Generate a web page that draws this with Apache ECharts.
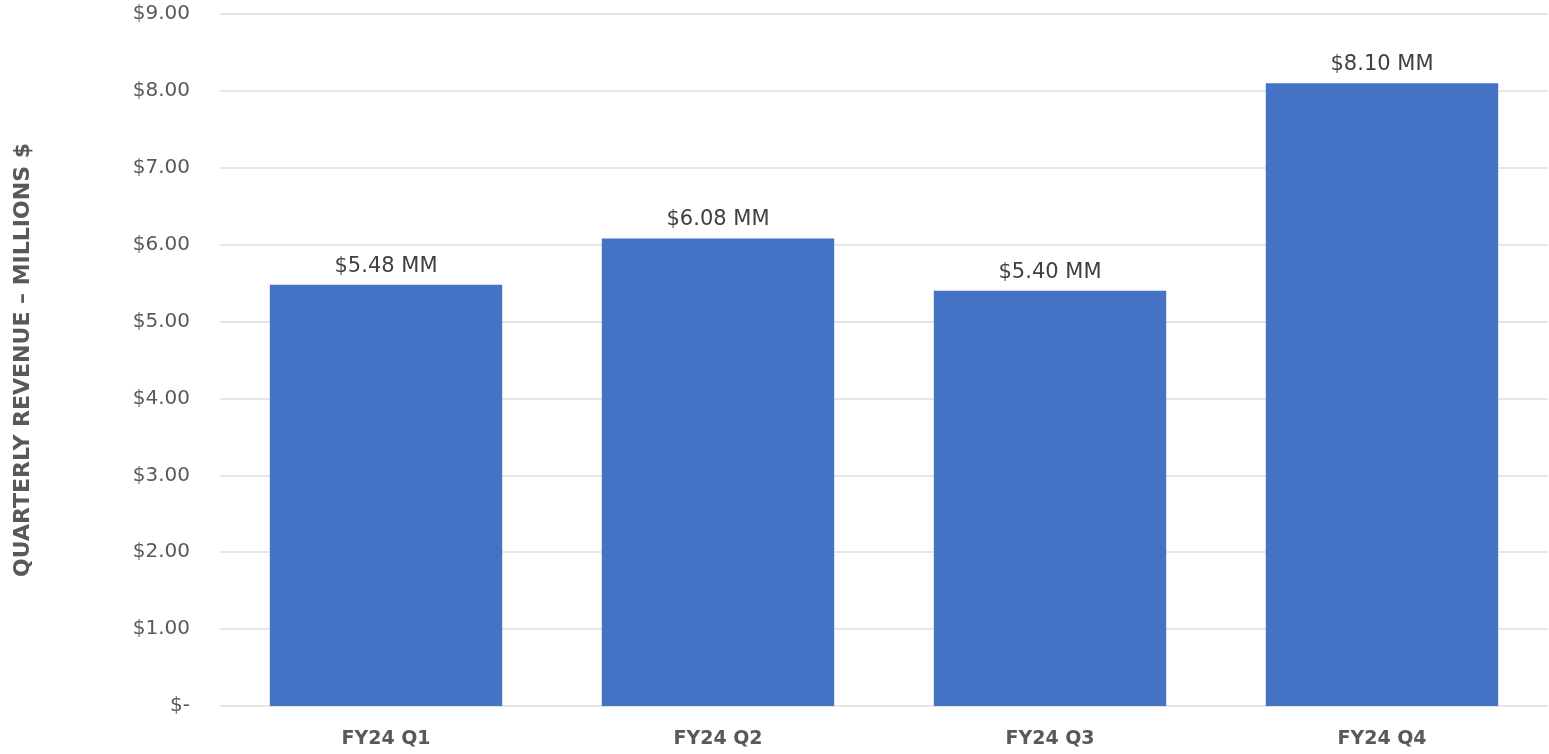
<!DOCTYPE html>
<html>
<head>
<meta charset="utf-8">
<script src="https://cdn.jsdelivr.net/npm/echarts@6/dist/echarts.min.js"></script>
<style>
html,body{margin:0;padding:0;background:#fff;}
#chart{width:1549px;height:754px;}
</style>
</head>
<body>
<div id="chart"></div>
<script>
var categories = ['FY24 Q1', 'FY24 Q2', 'FY24 Q3', 'FY24 Q4'];
var revenue = [5.48, 6.08, 5.40, 8.10];
var yAxisTitle = 'QUARTERLY REVENUE \u2013 MILLIONS $';

var chart = echarts.init(document.getElementById('chart'));
var font = '"DejaVu Sans", sans-serif';
chart.setOption({
  animation: false,
  grid: { left: 220, right: 1, top: 14, bottom: 48 },
  xAxis: {
    type: 'category',
    data: categories,
    axisLine: { show: false },
    axisTick: { show: false },
    axisLabel: { color: '#595959', fontSize: 19, fontWeight: 'bold', fontFamily: font, margin: 24 }
  },
  yAxis: {
    type: 'value',
    min: 0, max: 9, interval: 1,
    name: yAxisTitle,
    nameLocation: 'middle',
    nameGap: 186,
    nameTextStyle: { color: '#595959', fontSize: 22, fontWeight: 'bold', fontFamily: font },
    axisLine: { show: false },
    axisTick: { show: false },
    splitLine: { lineStyle: { color: '#e6e6e6', width: 2 } },
    axisLabel: {
      color: '#595959', fontSize: 20, fontFamily: font, margin: 30,
      formatter: function (v) { return v === 0 ? '$-' : '$' + v.toFixed(2); }
    }
  },
  series: [{
    type: 'bar',
    data: revenue,
    barWidth: '70%',
    itemStyle: { color: '#4472C4' },
    label: {
      show: true, position: 'top', distance: 6,
      color: '#404040', fontSize: 21, fontFamily: font,
      backgroundColor: '#fff', padding: [2, 8],
      formatter: function (p) { return '$' + p.value.toFixed(2) + ' MM'; }
    }
  }]
});
</script>
</body>
</html>
